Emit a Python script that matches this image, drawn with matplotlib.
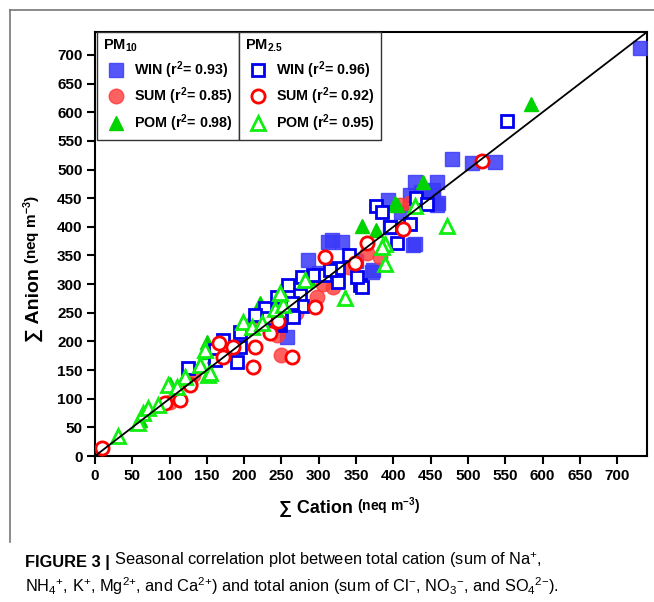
import matplotlib
matplotlib.use("Agg")
import numpy as np
import matplotlib.pyplot as plt
from matplotlib.lines import Line2D

plt.rcParams['font.family'] = ['Liberation Sans', 'DejaVu Sans']
plt.rcParams['mathtext.default'] = 'regular'

# PM10 (filled markers)
win10_x = [731, 479, 505, 536, 458, 453, 460, 429, 453, 449, 458, 422, 393, 437,
           313, 331, 429, 286, 371, 426, 257, 318, 440, 410, 300, 350, 373, 395]
win10_y = [712, 518, 511, 513, 478, 455, 441, 478, 464, 447, 438, 455, 447, 460,
           374, 374, 370, 342, 321, 368, 208, 377, 450, 425, 320, 340, 325, 400]
sum10_x = [131, 244, 250, 297, 319, 382, 409, 422, 100, 160, 210, 270, 305, 340, 365, 128]
sum10_y = [141, 211, 176, 278, 295, 347, 438, 441, 95, 180, 230, 250, 300, 330, 355, 125]
pom10_x = [150, 147, 221, 250, 358, 377, 402, 405, 440, 585, 100, 120, 160, 200, 285, 60]
pom10_y = [199, 182, 267, 286, 401, 394, 441, 438, 478, 615, 125, 140, 175, 230, 310, 62]

# PM2.5 (open markers)
win25_x = [552, 377, 385, 422, 405, 292, 308, 326, 259, 275, 244, 228, 264, 277, 265,
           248, 232, 215, 195, 161, 195, 190, 161, 172, 125, 355, 358, 351, 326, 315,
           277, 245, 264, 395, 430, 445, 340]
win25_y = [585, 436, 426, 405, 372, 316, 316, 304, 298, 281, 278, 258, 258, 262, 242,
           229, 241, 246, 216, 185, 191, 164, 168, 202, 154, 298, 295, 312, 328, 325,
           312, 232, 267, 400, 450, 440, 350]
sum25_x = [9, 94, 114, 127, 166, 172, 185, 212, 214, 235, 264, 295, 308, 349, 364, 413, 519, 245]
sum25_y = [14, 92, 98, 124, 197, 173, 190, 155, 191, 214, 172, 260, 347, 337, 372, 396, 515, 235]
pom25_x = [31, 58, 64, 71, 84, 98, 121, 141, 151, 147, 154, 199, 210, 224, 241, 252, 248,
           281, 335, 389, 389, 429, 472, 385, 110]
pom25_y = [35, 58, 75, 84, 89, 124, 138, 159, 141, 185, 145, 234, 225, 232, 257, 264, 285,
           307, 276, 370, 335, 436, 401, 365, 120]

labels10 = ['WIN (r$^{2}$= 0.93)', 'SUM (r$^{2}$= 0.85)', 'POM (r$^{2}$= 0.98)']
labels25 = ['WIN (r$^{2}$= 0.96)', 'SUM (r$^{2}$= 0.92)', 'POM (r$^{2}$= 0.95)']
ticks = list(range(0, 701, 50))

W, H = 654, 602
fig = plt.figure(figsize=(W / 100, H / 100), dpi=100)


def fx(px):
    return px / W


def fy(py):
    return 1 - py / H


ax = fig.add_axes([fx(95), fy(456), fx(647) - fx(95), fy(32) - fy(456)])

h1, = ax.plot(win10_x, win10_y, ls='none', marker='s', ms=9.5, mfc='#3a3af8', mec='#3a3af8',
              alpha=0.85, zorder=3)
h2, = ax.plot(sum10_x, sum10_y, ls='none', marker='o', ms=10.5, mfc='#ff3838', mec='#ff3838',
              alpha=0.8, zorder=3)
h3, = ax.plot(pom10_x, pom10_y, ls='none', marker='^', ms=10.5, mfc='#00d400', mec='#00d400',
              zorder=3)
h4, = ax.plot(win25_x, win25_y, ls='none', marker='s', ms=8.5, mfc='white', mec='#0000f0',
              mew=2.0, zorder=4)
h5, = ax.plot(sum25_x, sum25_y, ls='none', marker='o', ms=9.5, mfc='white', mec='#ff0000',
              mew=2.0, zorder=5)
h6, = ax.plot(pom25_x, pom25_y, ls='none', marker='^', ms=10.5, mfc='white', mec='#11ee11',
              mew=2.0, zorder=6)

ax.axline((0, 0), slope=1, color='black', lw=1.3, zorder=7)

ax.set_xlim(0, 740)
ax.set_ylim(0, 740)
ax.set_xticks(ticks)
ax.set_yticks(ticks)
ax.tick_params(direction='out', length=6, width=1.5, labelsize=11, pad=3)
for lbl in ax.get_xticklabels() + ax.get_yticklabels():
    lbl.set_fontweight('bold')
for sp in ax.spines.values():
    sp.set_linewidth(1.5)

leg_kw = dict(loc='upper left', numpoints=1, frameon=True, fancybox=False, framealpha=1,
              edgecolor='#333333', borderpad=0.4, handlelength=1.8, handletextpad=0.4,
              labelspacing=0.35, borderaxespad=0, alignment='left',
              prop={'weight': 'bold', 'size': 10.3},
              title_fontproperties={'weight': 'bold', 'size': 10.5})
leg1 = ax.legend([h1, h2, h3], labels10, title='PM$_{10}$', bbox_to_anchor=(0.004, 1.0), **leg_kw)
leg1.get_frame().set_linewidth(1.0)
ax.add_artist(leg1)
fig.canvas.draw()
bb = leg1.get_window_extent().transformed(ax.transAxes.inverted())
leg2 = ax.legend([h4, h5, h6], labels25, title='PM$_{2.5}$', bbox_to_anchor=(bb.x1, 1.0), **leg_kw)
leg2.get_frame().set_linewidth(1.0)

# axis labels
xl = fig.text(fx(279), fy(513), '∑ Cation', fontsize=13, fontweight='bold', va='baseline')
fig.canvas.draw()
ax.annotate('(neq m$^{-3}$)', xy=(1, 0), xycoords=xl, xytext=(3, 0), textcoords='offset points',
            fontsize=10, fontweight='bold', va='bottom', ha='left', annotation_clip=False)
yl = fig.text(fx(26), fy(342), '∑ Anion', fontsize=14, fontweight='bold', rotation=90,
              ha='left', va='bottom')
fig.canvas.draw()
ax.annotate('(neq m$^{-3}$)', xy=(1, 1), xycoords=yl, xytext=(0, 3), textcoords='offset points',
            fontsize=11, fontweight='bold', rotation=90, ha='right', va='bottom',
            annotation_clip=False)

# figure frame
fig.add_artist(Line2D([fx(10), fx(654)], [fy(10), fy(10)], color='#777777', lw=1.2))
fig.add_artist(Line2D([fx(10), fx(10)], [fy(10), fy(542)], color='#777777', lw=1.2))

# caption
cap_font = ['Liberation Sans', 'DejaVu Sans']
c1 = fig.text(fx(25), fy(567), 'FIGURE 3 |', fontsize=11.8, fontweight='bold', family=cap_font,
              va='baseline')
fig.canvas.draw()
ax.annotate(' Seasonal correlation plot between total cation (sum of Na$^{+}$,', xy=(1, 0),
            xycoords=c1, xytext=(0, 0), textcoords='offset points', fontsize=11.8,
            family=cap_font, va='bottom', annotation_clip=False)
fig.text(fx(25), fy(592),
         'NH$_{4}$$^{+}$, K$^{+}$, Mg$^{2{+}}$, and Ca$^{2{+}}$) and total anion '
         '(sum of Cl$^{-}$, NO$_{3}$$^{-}$, and SO$_{4}$$^{2{-}}$).',
         fontsize=11.8, family=cap_font, va='baseline')

fig.savefig('out.png', dpi=100)
